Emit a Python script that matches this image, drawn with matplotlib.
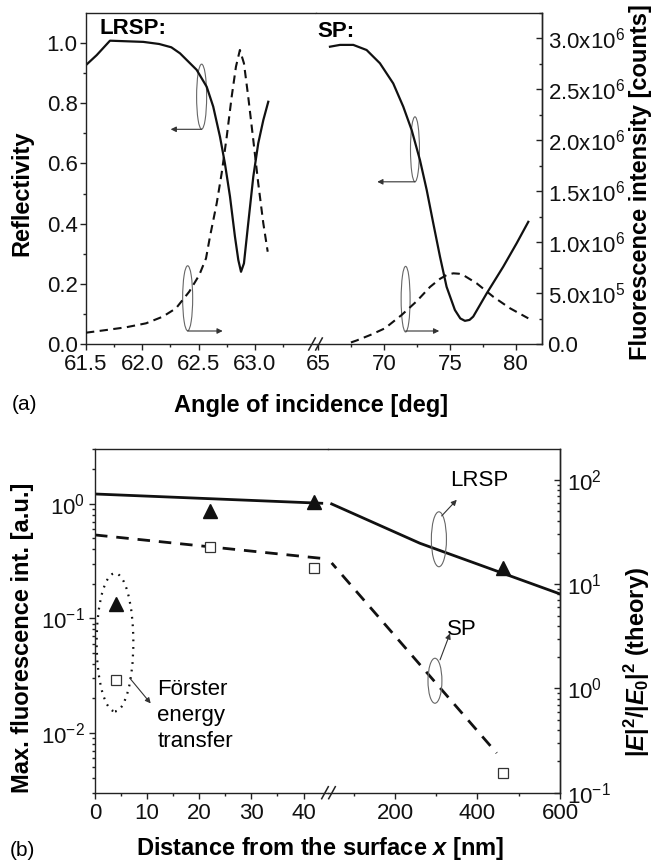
import matplotlib

matplotlib.use("Agg")
import matplotlib.pyplot as plt
import numpy as np
from matplotlib.lines import Line2D
from matplotlib.patches import Ellipse
from matplotlib.transforms import IdentityTransform
from matplotlib.ticker import FixedLocator, FormatStrFormatter, FuncFormatter, NullFormatter

plt.rcParams["font.family"] = ["Liberation Sans", "DejaVu Sans"]
plt.rcParams["mathtext.default"] = "regular"
plt.rcParams["mathtext.fontset"] = "custom"
plt.rcParams["mathtext.it"] = "Liberation Sans:italic:bold"
plt.rcParams["mathtext.rm"] = "Liberation Sans"

# ---- panel (a): angular scans ----
lrsp_refl_angle = [61.5, 61.595, 61.713, 62.009, 62.15, 62.258, 62.335, 62.483, 62.572, 62.63,
                   62.69, 62.734, 62.779, 62.823, 62.853, 62.877, 62.903, 62.941, 62.986,
                   63.03, 63.075, 63.119]
lrsp_refl = [0.927, 0.960, 1.008, 1.004, 0.997, 0.986, 0.966, 0.911, 0.855, 0.789, 0.689,
             0.600, 0.490, 0.357, 0.279, 0.240, 0.268, 0.401, 0.556, 0.667, 0.744, 0.805]

lrsp_fl_angle = [61.5, 61.678, 61.855, 62.033, 62.181, 62.299, 62.417, 62.506, 62.566, 62.601,
                 62.661, 62.705, 62.75, 62.794, 62.832, 62.867, 62.903, 62.941, 62.986,
                 63.03, 63.075, 63.114]
lrsp_fl = [0.111, 0.137, 0.164, 0.203, 0.268, 0.350, 0.514, 0.677, 0.841, 1.053,
           1.381, 1.676, 2.035, 2.428, 2.723, 2.887, 2.756, 2.428, 2.003, 1.578, 1.185, 0.906]

sp_refl_angle = [65.91, 66.67, 67.68, 68.69, 69.70, 70.71, 71.47, 72.11, 72.74, 73.25, 73.75,
                 74.26, 74.76, 75.39, 75.8, 76.15, 76.5, 76.78, 77.80, 79.06, 80.08, 80.96]
sp_refl = [0.988, 0.994, 0.994, 0.977, 0.933, 0.866, 0.789, 0.711, 0.611, 0.512, 0.401,
           0.290, 0.190, 0.113, 0.085, 0.077, 0.080, 0.091, 0.168, 0.257, 0.335, 0.406]

sp_fl_angle = [67.5, 67.94, 69.0, 70.08, 71.35, 72.49, 73.5, 74.26, 74.8, 75.27, 75.7, 76.02,
               77.04, 78.3, 79.57, 80.96]
sp_fl = [0.015, 0.035, 0.09, 0.154, 0.285, 0.42, 0.56, 0.64, 0.68, 0.694, 0.69, 0.677,
         0.596, 0.464, 0.351, 0.252]

# ---- panel (b): distance dependence ----
theory_near_x = [0, 43.5]
lrsp_theory_near = [73.4, 59.8]
sp_theory_near = [29.7, 17.7]
lrsp_theory_far_x = [46.5, 260.6, 600]
lrsp_theory_far = [58.9, 24.7, 8.07]
sp_theory_far_x = [46.5, 446.5]
sp_theory_far = [16.0, 0.24]

meas_x = np.array([4, 22, 42, 463])
lrsp_meas = np.array([0.133, 0.869, 1.03, 0.274])
sp_meas = np.array([0.0292, 0.423, 0.277, 0.00446])

W, H = 653, 867
fig = plt.figure(figsize=(W / 100, H / 100), dpi=100)
TICK = 16
LABEL = 17
INK = "#111111"
SPINE = "#222222"


def px_box(left, right, top, bottom):
    return [left / W, 1 - bottom / H, (right - left) / W, (bottom - top) / H]


def style(ax, lw=1.0):
    for s in ax.spines.values():
        s.set_color(SPINE)
        s.set_linewidth(lw)
    ax.tick_params(which="both", direction="out", colors=SPINE, labelsize=TICK,
                   labelcolor=INK, width=1.0)
    ax.tick_params(which="major", length=4.5, pad=3)
    ax.tick_params(which="minor", length=2.5)


def break_marks(ax, offsets):
    x0, y0 = ax.transAxes.transform((0, 0))
    for dx in offsets:
        fig.add_artist(Line2D([x0 + dx - 3.3, x0 + dx + 3.3], [y0 - 6, y0 + 6],
                              transform=IdentityTransform(), color=SPINE, lw=1.1))


# ================= panel (a) =================
a1 = fig.add_axes(px_box(86, 316, 13, 344))
a2 = fig.add_axes(px_box(316, 542, 13, 344), sharey=a1)
a1f = a1.twinx()
a2f = a2.twinx()
for ax in (a1, a2, a1f, a2f):
    style(ax)

a1.set_xlim(61.5, 63.543)
a2.set_xlim(64.85, 82.0)
a1.set_ylim(0, 1.1)
a1f.set_ylim(0, 3.25e6)
a2f.set_ylim(0, 3.25e6)

a1.spines["right"].set_visible(False)
a2.spines["left"].set_visible(False)
a2.tick_params(axis="y", which="both", left=False, labelleft=False)
for s in a1f.spines.values():
    s.set_visible(False)
a1f.tick_params(axis="y", which="both", right=False, labelright=False)
for name in ("left", "top", "bottom"):
    a2f.spines[name].set_visible(False)

a1.yaxis.set_major_locator(FixedLocator([0, 0.2, 0.4, 0.6, 0.8, 1.0]))
a1.yaxis.set_minor_locator(FixedLocator([0.1, 0.3, 0.5, 0.7, 0.9]))
a1.yaxis.set_major_formatter(FormatStrFormatter("%.1f"))
a1.tick_params(axis="y", pad=1.5)
a1.xaxis.set_major_locator(FixedLocator([61.5, 62.0, 62.5, 63.0]))
a1.xaxis.set_minor_locator(FixedLocator([61.75, 62.25, 62.75, 63.25]))
a1.xaxis.set_major_formatter(FormatStrFormatter("%.1f"))
a2.xaxis.set_major_locator(FixedLocator([65, 70, 75, 80]))
a2.xaxis.set_minor_locator(FixedLocator([67.5, 72.5, 77.5]))
a2.xaxis.set_major_formatter(FormatStrFormatter("%d"))


def sci_fmt(v, _pos):
    if v == 0:
        return "0.0"
    exp = int(np.floor(np.log10(v)))
    return f"{v / 10 ** exp:.1f}x10$^{{{exp}}}$"


a2f.yaxis.set_major_locator(FixedLocator(np.arange(0, 3.01e6, 0.5e6)))
a2f.yaxis.set_minor_locator(FixedLocator(np.arange(0.25e6, 3.3e6, 0.5e6)))
a2f.yaxis.set_major_formatter(FuncFormatter(sci_fmt))
a2f.tick_params(axis="y", which="both", direction="in", pad=4)

a1.plot(lrsp_refl_angle, lrsp_refl, color=INK, lw=1.6)
a1f.plot(lrsp_fl_angle, [v * 1e6 for v in lrsp_fl], color=INK, lw=1.5, ls=(0, (4, 2.6)))
a2.plot(sp_refl_angle, sp_refl, color=INK, lw=1.6)
a2f.plot(sp_fl_angle, [v * 1e6 for v in sp_fl], color=INK, lw=1.5, ls=(0, (4, 2.6)))

a1.text(61.917, 1.05, "LRSP:", ha="center", va="center", fontsize=16, fontweight="bold")
a2.text(66.33, 1.04, "SP:", ha="center", va="center", fontsize=16, fontweight="bold")

ell_kw = dict(fill=False, ec="#666666", lw=0.8)
arr_kw = dict(arrowstyle="-|>", color="#333333", lw=0.8, mutation_scale=8, shrinkA=0, shrinkB=0)
a1.add_patch(Ellipse((62.527, 0.822), 0.089, 0.216, **ell_kw))
a1.annotate("", xy=(62.252, 0.7135), xytext=(62.527, 0.7135), arrowprops=arr_kw)
a1.add_patch(Ellipse((62.403, 0.152), 0.089, 0.216, **ell_kw))
a1.annotate("", xy=(62.714, 0.0432), xytext=(62.403, 0.0432), arrowprops=arr_kw)
a2.add_patch(Ellipse((72.36, 0.647), 0.68, 0.216, **ell_kw))
a2.annotate("", xy=(69.5, 0.539), xytext=(72.36, 0.539), arrowprops=arr_kw)
a2.add_patch(Ellipse((71.65, 0.149), 0.68, 0.218, **ell_kw))
a2.annotate("", xy=(74.2, 0.0432), xytext=(71.65, 0.0432), arrowprops=arr_kw)

fig.text(311 / W, 1 - 405 / H, "Angle of incidence [deg]", ha="center", va="center",
         fontsize=LABEL, fontweight="bold")
fig.text(22 / W, 1 - 193 / H, "Reflectivity", ha="center", va="center", rotation=90,
         fontsize=LABEL, fontweight="bold")
fig.text(641 / W, 1 - 182 / H, "Fluorescence intensity [counts]", ha="center", va="center",
         rotation=90, fontsize=LABEL, fontweight="bold")
fig.text(12 / W, 1 - 404 / H, "(a)", ha="left", va="center", fontsize=15)

# ================= panel (b) =================
b1 = fig.add_axes(px_box(95, 328, 449.3, 792.7))
b2 = fig.add_axes(px_box(328, 560, 449.3, 792.7), sharey=b1)
b1t = b1.twinx()
b2t = b2.twinx()
for ax in (b1, b2, b1t, b2t):
    style(ax)
for host, twin in ((b1, b1t), (b2, b2t)):
    host.set_zorder(twin.get_zorder() + 1)
    host.patch.set_visible(False)

b1.set_yscale("log")
b1t.set_yscale("log")
b2t.set_yscale("log")
b1.set_ylim(3e-3, 3.0)
b1t.set_ylim(0.1, 197)
b2t.set_ylim(0.1, 197)
b1.set_xlim(0, 44.7)
b2.set_xlim(37.6, 600)

b1.spines["right"].set_visible(False)
b2.spines["left"].set_visible(False)
b2.tick_params(axis="y", which="both", left=False, labelleft=False)
for s in b1t.spines.values():
    s.set_visible(False)
b1t.tick_params(axis="y", which="both", right=False, labelright=False)
for name in ("left", "top", "bottom"):
    b2t.spines[name].set_visible(False)
b1.yaxis.set_minor_formatter(NullFormatter())
b2t.yaxis.set_minor_formatter(NullFormatter())
b2t.tick_params(axis="y", which="both", direction="in", pad=5)

b1.xaxis.set_major_locator(FixedLocator([0, 10, 20, 30, 40]))
b1.xaxis.set_minor_locator(FixedLocator([5, 15, 25, 35]))
b2.xaxis.set_major_locator(FixedLocator([200, 400, 600]))
b2.xaxis.set_minor_locator(FixedLocator([100, 300, 500]))

b1t.plot(theory_near_x, lrsp_theory_near, color=INK, lw=2.0)
b1t.plot(theory_near_x, sp_theory_near, color=INK, lw=2.0, ls=(0, (4.5, 3.2)))
b2t.plot(lrsp_theory_far_x, lrsp_theory_far, color=INK, lw=2.0)
b2t.plot(sp_theory_far_x, sp_theory_far, color=INK, lw=2.0, ls=(2, (4.5, 3.2)))

near = meas_x < 44.7
for ax, mask in ((b1, near), (b2, ~near)):
    ax.plot(meas_x[mask], lrsp_meas[mask], ls="none", marker="^", ms=10, color=INK,
            clip_on=False)
    ax.plot(meas_x[mask], sp_meas[mask], ls="none", marker="s", ms=6.5, mfc="white",
            mec="#333333", mew=0.9, clip_on=False)

b1.add_patch(Ellipse((0.0858, 0.438), 0.1575, 0.402, transform=b1.transAxes, fill=False,
                     ec=INK, lw=1.6, ls=(0, (0.8, 2.6))))
b1.annotate("", xy=(0.239, 0.260), xytext=(0.150, 0.333), xycoords="axes fraction",
            arrowprops=arr_kw)
b1.text(0.267, 0.33, "Förster\nenergy\ntransfer", transform=b1.transAxes, ha="left",
        va="top", fontsize=16, linespacing=1.3)

b2.add_patch(Ellipse((0.478, 0.738), 0.065, 0.160, transform=b2.transAxes, **ell_kw))
b2.annotate("", xy=(0.555, 0.853), xytext=(0.490, 0.806), xycoords="axes fraction",
            arrowprops=arr_kw)
b2.text(0.651, 0.908, "LRSP", transform=b2.transAxes, ha="center", va="center", fontsize=16)
b2.add_patch(Ellipse((0.461, 0.326), 0.060, 0.131, transform=b2.transAxes, **ell_kw))
b2.annotate("", xy=(0.526, 0.464), xytext=(0.483, 0.387), xycoords="axes fraction",
            arrowprops=arr_kw)
b2.text(0.576, 0.474, "SP", transform=b2.transAxes, ha="center", va="center", fontsize=16)

fig.text(320 / W, 1 - 848 / H, r"Distance from the surface $\mathit{x}$ [nm]", ha="center",
         va="center", fontsize=LABEL, fontweight="bold")
fig.text(22.5 / W, 1 - 637.5 / H, "Max. fluorescence int. [a.u.]", ha="center", va="center",
         rotation=90, fontsize=LABEL, fontweight="bold")
fig.text(637 / W, 1 - 662.5 / H, r"$|\mathit{E}|^2/|\mathit{E}_0|^2$ (theory)", ha="center",
         va="center", rotation=90, fontsize=LABEL, fontweight="bold")
fig.text(10 / W, 1 - 850 / H, "(b)", ha="left", va="center", fontsize=15)

break_marks(a2, (-4.0, 3.0))
break_marks(b2, (-3.0, 4.0))

fig.savefig("out.png", dpi=100)
